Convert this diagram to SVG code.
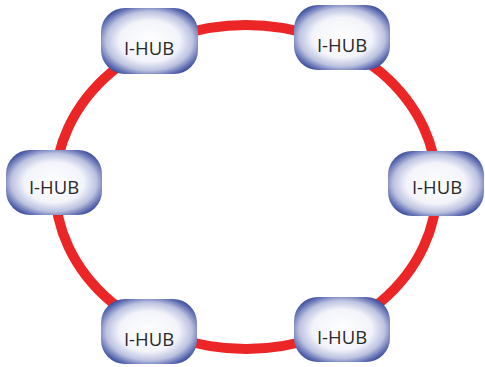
<svg xmlns="http://www.w3.org/2000/svg" width="485" height="367" viewBox="0 0 485 367">
<style>
.ring{fill:none;stroke:#ec2627;stroke-width:10}
.hub{fill:url(#g)}
.lbl{font-family:"Open Sans","Noto Sans",sans-serif;font-size:18.5px;fill:#2a2a2a;text-anchor:middle}
</style>
<defs>
<radialGradient id="g" cx="0.5" cy="0.5" r="0.62">
<stop offset="0" stop-color="#ffffff"/>
<stop offset="0.5" stop-color="#f3f4fa"/>
<stop offset="0.72" stop-color="#bcc2e0"/>
<stop offset="0.88" stop-color="#5c6ab0"/>
<stop offset="1" stop-color="#1f3389"/>
</radialGradient>
</defs>
<g id="connectors">
<ellipse class="ring" cx="246" cy="187" rx="191" ry="162"/>
</g>
<g id="hub1"><rect class="hub" x="101" y="8" width="97" height="66" rx="24"/><text class="lbl" x="149" y="55">I-HUB</text></g>
<g id="hub2"><rect class="hub" x="294" y="5" width="96" height="65" rx="24"/><text class="lbl" x="342" y="52">I-HUB</text></g>
<g id="hub3"><rect class="hub" x="6" y="150" width="96" height="65" rx="24"/><text class="lbl" x="54" y="194">I-HUB</text></g>
<g id="hub4"><rect class="hub" x="388" y="151" width="96" height="65" rx="24"/><text class="lbl" x="437" y="194">I-HUB</text></g>
<g id="hub5"><rect class="hub" x="101" y="299" width="96" height="65" rx="24"/><text class="lbl" x="149" y="346">I-HUB</text></g>
<g id="hub6"><rect class="hub" x="294" y="297" width="96" height="65" rx="24"/><text class="lbl" x="342" y="344">I-HUB</text></g>
</svg>
